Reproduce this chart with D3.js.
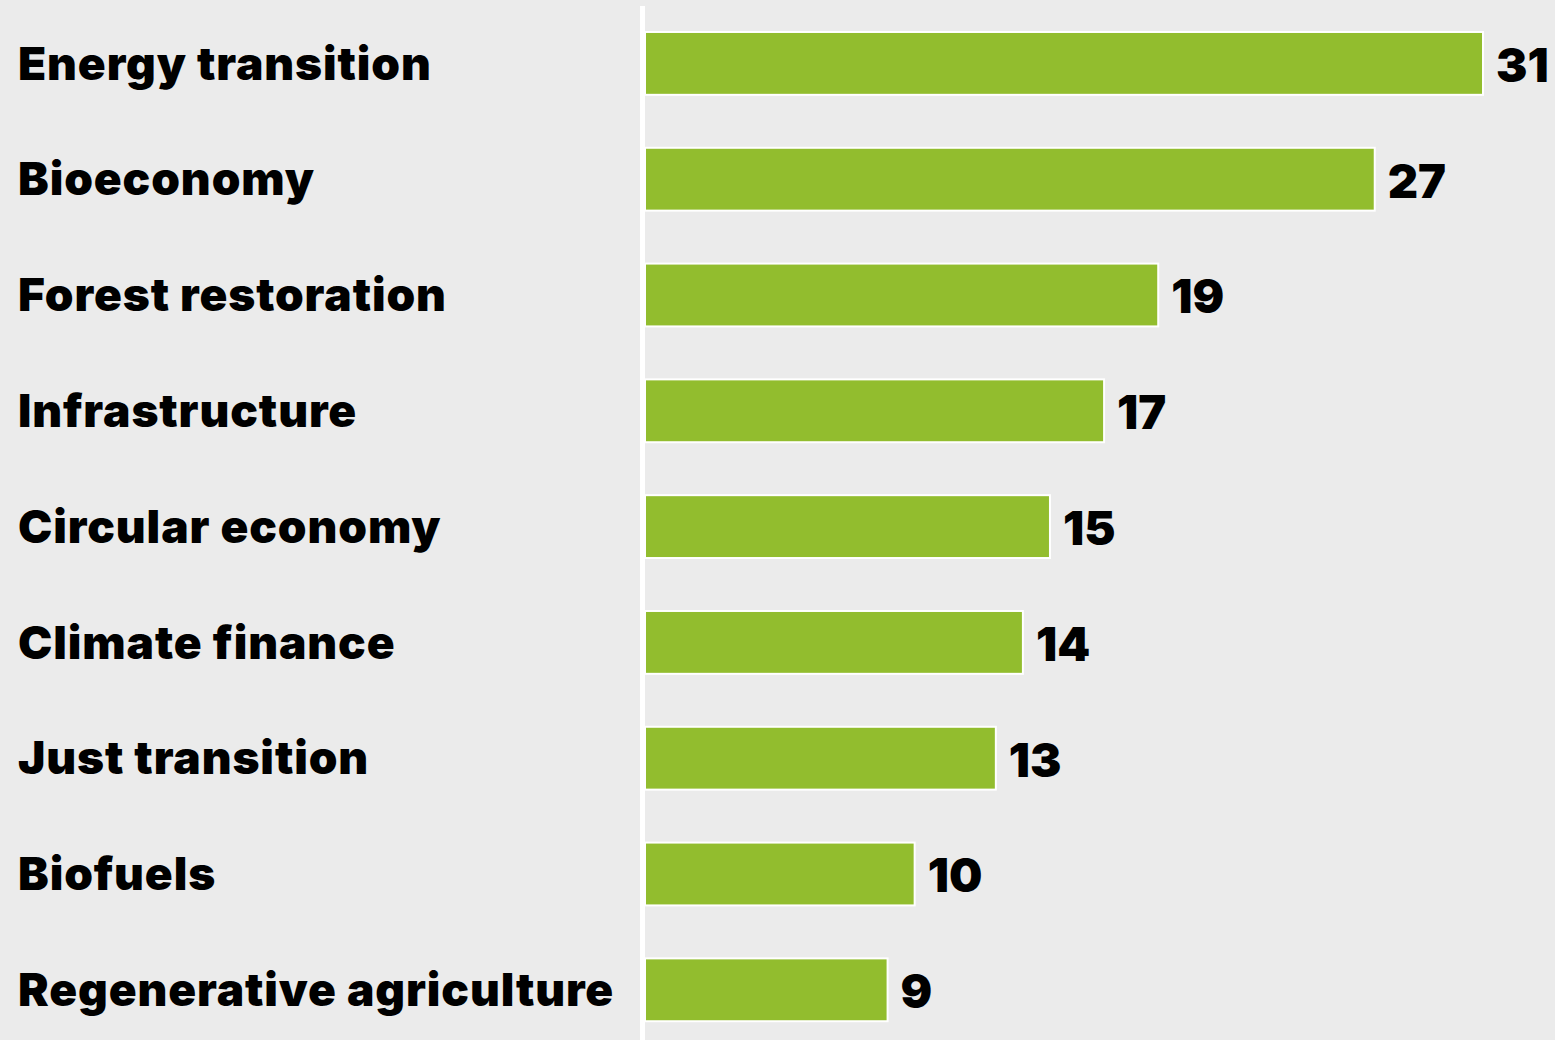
<!DOCTYPE html>
<html><head><meta charset="utf-8">
<script src="https://cdn.jsdelivr.net/npm/d3@7"></script>
<style>
html,body{margin:0;padding:0;background:#ebebeb;}
svg{display:block;}
</style></head>
<body>
<svg id="chart" width="1555" height="1040"></svg>
<script>
const categories = ["Energy transition","Bioeconomy","Forest restoration","Infrastructure","Circular economy","Climate finance","Just transition","Biofuels","Regenerative agriculture"];
const values = [31,27,19,17,15,14,13,10,9];

const svg = d3.select("#chart");
svg.append("rect").attr("width",1555).attr("height",1040).attr("fill","#ebebeb");

const x = d3.scaleLinear().domain([0,31]).range([645,1484]);
const y = d3.scaleBand().domain(categories).range([5.5,1047.7]).paddingInner(0.44).paddingOuter(0.22);

// axis line
svg.append("line").attr("x1",642.5).attr("x2",642.5).attr("y1",6).attr("y2",1040)
  .attr("stroke","#ffffff").attr("stroke-width",5);

const data = categories.map((c,i)=>({c, v: values[i]}));

svg.selectAll("rect.bar").data(data).join("rect").attr("class","bar")
  .attr("x", x(0)).attr("y", d=>y(d.c)+1)
  .attr("width", d=>x(d.v)-x(0)-1).attr("height", y.bandwidth()-2)
  .attr("fill","#92bd2e").attr("stroke","#ffffff").attr("stroke-width",2);

svg.selectAll("text.cat").data(data).join("text").attr("class","cat")
  .attr("x",18).attr("y", d=>y(d.c)+y.bandwidth()/2)
  .attr("dy","0.35em")
  .attr("font-family","Inter, sans-serif").attr("font-weight",900)
  .attr("letter-spacing","0.9px")
  .attr("font-size",46).attr("fill","#000").text(d=>d.c);

svg.selectAll("text.val").data(data).join("text").attr("class","val")
  .attr("x", d=>x(d.v)+12).attr("y", d=>y(d.c)+y.bandwidth()/2+2)
  .attr("dy","0.35em")
  .attr("font-family","Inter, sans-serif").attr("font-weight",900)
  .attr("font-size",47).attr("fill","#000").text(d=>d.v);
</script>
</body></html>
